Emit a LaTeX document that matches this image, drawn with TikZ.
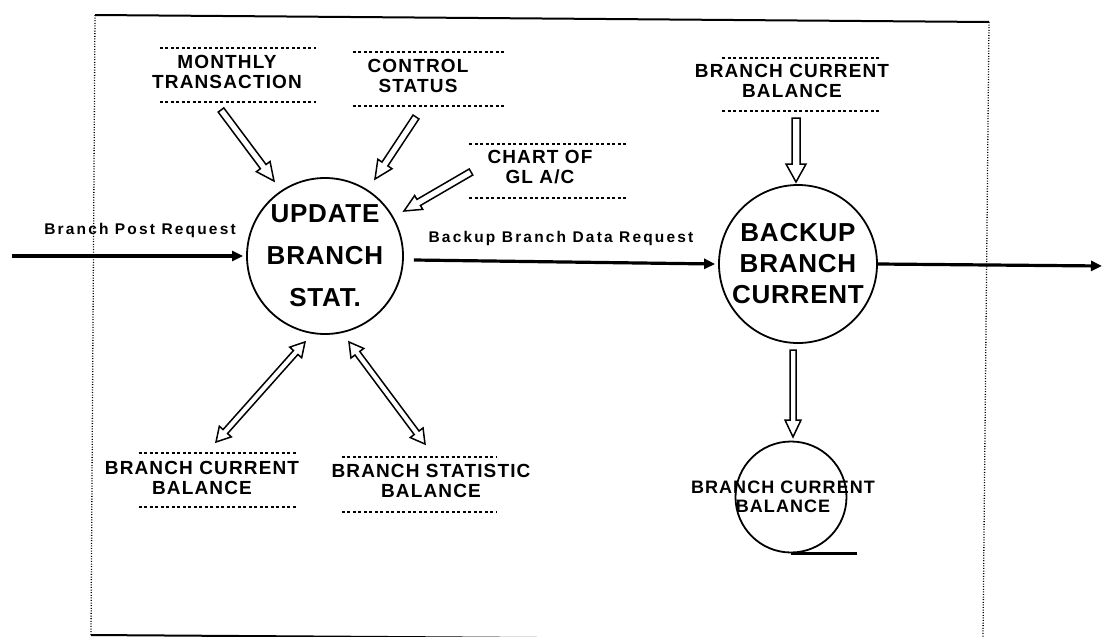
\documentclass[tikz,border=0pt]{standalone}
\usepackage{fontspec}
\setmainfont{Liberation Sans}
\newfontfamily\storefont[LetterSpace=6]{Liberation Sans}
\newfontfamily\circfont[LetterSpace=3]{Liberation Sans}
\newfontfamily\flowfont[LetterSpace=14]{Liberation Sans}
\usetikzlibrary{arrows.meta,calc}

% hollow single arrow: start, end, shaft half width, head half width, head length
\newcommand\harrow[5]{%
  \coordinate (hc) at ($(#2)!#5!(#1)$);
  \draw[hollowline] ($(#1)!#3!90:(#2)$) -- ($(hc)!#3!90:(#2)$) -- ($(hc)!#4!90:(#2)$) -- (#2)
     -- ($(hc)!#4!-90:(#2)$) -- ($(hc)!#3!-90:(#2)$) -- ($(#1)!#3!-90:(#2)$) -- cycle;
}
% hollow double arrow
\newcommand\hdarrow[5]{%
  \coordinate (hc) at ($(#2)!#5!(#1)$);
  \coordinate (hd) at ($(#1)!#5!(#2)$);
  \draw[hollowline] (#1) -- ($(hd)!#4!90:(#2)$) -- ($(hd)!#3!90:(#2)$) -- ($(hc)!#3!90:(#2)$)
     -- ($(hc)!#4!90:(#2)$) -- (#2) -- ($(hc)!#4!-90:(#2)$) -- ($(hc)!#3!-90:(#2)$)
     -- ($(hd)!#3!-90:(#2)$) -- ($(hd)!#4!-90:(#2)$) -- cycle;
}

\begin{document}
\begin{tikzpicture}[x=1pt,y=-1pt,
  proc/.style={circle, draw, line width=1.8pt, inner sep=0pt, minimum size=#1},
  circtext/.style={font=\circfont\bfseries\fontsize{26}{42}\selectfont, align=center, inner sep=0pt},
  storebox/.style 2 args={minimum width=#1, minimum height=#2, inner sep=0pt},
  storetext/.style={font=\storefont\bfseries\fontsize{19}{20}\selectfont, align=center, inner sep=0pt},
  storeline/.style={line width=1.8pt, dash pattern=on 3pt off 2.5pt},
  flow/.style={line width=3.2pt, -{Triangle[length=11pt,width=10pt]}},
  flowtext/.style={font=\flowfont\bfseries\fontsize{15.5}{18}\selectfont, inner sep=0pt},
  hollowline/.style={line width=1.5pt, line join=miter},
  barline/.style={line width=3.5pt},
  frameline/.style={line width=2pt},
  framedot/.style={line width=1.3pt, dash pattern=on 1pt off 1.6pt}]
\useasboundingbox (0,0) rectangle (1103,637);

% frame
\draw[frameline] (95,15) -- (989,22);
\draw[frameline] (91,635) -- (985,641);
\draw[framedot] (95,15) -- (91,635);
\draw[framedot] (989,22) -- (983,637);

% processes
\node[proc=156pt] (upd) at (325,256) {};
\node[circtext] (updT) at (upd.center) {UPDATE\\BRANCH\\STAT.};
\node[proc=158pt] (bk) at (798,264) {};
\node[circtext, font=\circfont\bfseries\fontsize{26}{31}\selectfont] (bkT) at (bk.center) {BACKUP\\BRANCH\\CURRENT};

% data stores
\node[storebox={156pt}{54pt}] (mt) at (238,75) {};
\node[storetext] (mtT) at ([xshift=-11pt,yshift=3pt]mt.center) {MONTHLY\\TRANSACTION};
\node[storebox={152pt}{54pt}] (cs) at (429,79) {};
\node[storetext] (csT) at ([xshift=-11pt,yshift=3.5pt]cs.center) {CONTROL\\STATUS};
\node[storebox={157pt}{54pt}] (ch) at (548,171) {};
\node[storetext] (chT) at ([xshift=-8pt,yshift=3.5pt]ch.center) {CHART OF\\GL A/C};
\node[storebox={157pt}{53pt}] (bc1) at (801,84.5) {};
\node[storetext] (bc1T) at ([xshift=-9pt,yshift=3.5pt]bc1.center) {BRANCH CURRENT\\BALANCE};
\node[storebox={158pt}{54pt}] (bc2) at (218,480) {};
\node[storetext] (bc2T) at ([xshift=-16pt,yshift=2.5pt]bc2.center) {BRANCH CURRENT\\BALANCE};
\node[storebox={154pt}{55pt}] (bs) at (419,484.5) {};
\node[storetext] (bsT) at ([xshift=12pt,yshift=4pt]bs.center) {BRANCH STATISTIC\\BALANCE};
\foreach \n in {mt,cs,ch,bc1,bc2,bs}
  \draw[storeline] (\n.north west) -- (\n.north east) (\n.south west) -- (\n.south east);

% store drawn as circle
\node[proc=111pt] (st) at (791,497) {};
\node[storetext, font=\storefont\bfseries\fontsize{18}{19}\selectfont] (stT) at ([xshift=-8pt]st.center) {BRANCH CURRENT\\BALANCE};
\draw[barline] (st.south) -- ++(66,0);

% main flows
\coordinate (src) at (12,256);
\coordinate (snk) at (1102,266);
\draw[flow, shorten >=3pt] (src) -- (upd.west);
\draw[flow] ([xshift=10pt,yshift=-4pt]upd.east) -- ([xshift=-3pt]bk.west);
\draw[flow] (bk.east) -- (snk);
\node[flowtext] (l1) at (140,230) {Branch Post Request};
\node[flowtext] (l2) at (561,238) {Backup Branch Data Request};

% hollow arrows
\coordinate (a1) at (221,110); \coordinate (b1) at (274,181);
\harrow{a1}{b1}{3.5pt}{8.5pt}{18pt}
\coordinate (a2) at (416,117); \coordinate (b2) at (375,179);
\harrow{a2}{b2}{3.5pt}{8.5pt}{18pt}
\coordinate (a3) at (471,172); \coordinate (b3) at (404,211);
\harrow{a3}{b3}{3.5pt}{8pt}{17pt}
\coordinate (a4) at (796,118); \coordinate (b4) at (796,182);
\harrow{a4}{b4}{4pt}{10pt}{18pt}
\coordinate (a5) at (793,350); \coordinate (b5) at (793,437);
\harrow{a5}{b5}{3pt}{8pt}{17pt}
\coordinate (a6) at (305,342); \coordinate (b6) at (216,442);
\hdarrow{a6}{b6}{3pt}{8pt}{14pt}
\coordinate (a7) at (349,342); \coordinate (b7) at (425,444);
\hdarrow{a7}{b7}{3pt}{8pt}{14pt}
\end{tikzpicture}
\end{document}
